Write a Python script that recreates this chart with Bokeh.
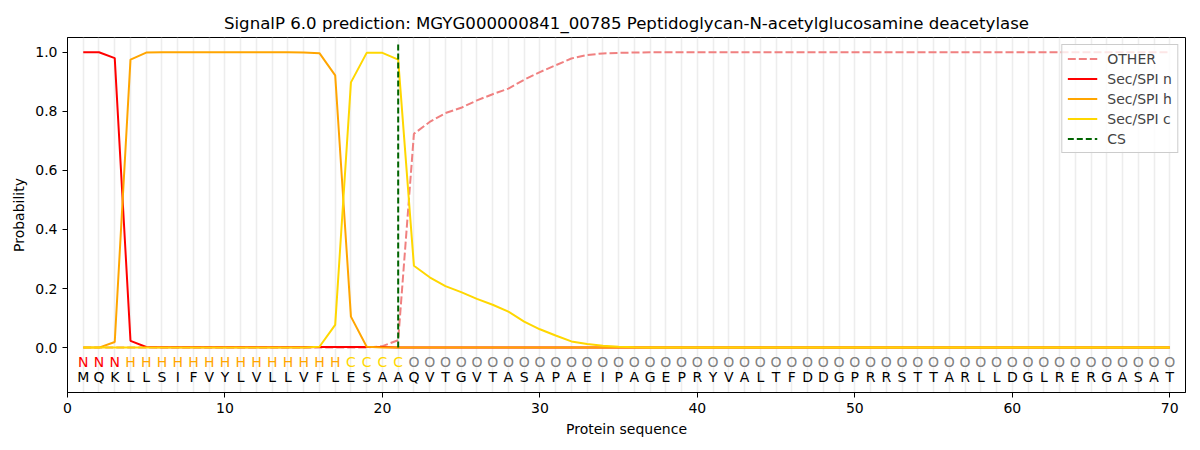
from bokeh.plotting import figure
from bokeh.models import FixedTicker, Legend, LegendItem, ColumnDataSource, CustomJSTickFormatter
from bokeh.core.properties import value
from bokeh.embed import file_html
from bokeh.resources import INLINE

title = "SignalP 6.0 prediction: MGYG000000841_00785 Peptidoglycan-N-acetylglucosamine deacetylase"
sequence = list("MQKLLSIFVYLVLLVFLESAAQVTGVTASAPAEIPAGEPRYVALTFDDGPRRSTTARLLDGLRERGASAT")
labels = list("NNN" + "H" * 14 + "CCCC" + "O" * 49)
positions = list(range(1, 71))

other = ([0.0] * 19 + [0.005, 0.025, 0.724, 0.764, 0.794, 0.812, 0.837, 0.858, 0.877,
         0.907, 0.933, 0.956, 0.979, 0.991, 0.996, 0.998, 0.999] + [1.0] * 34)
sec_n = ([1.0, 1.0, 0.98, 0.023, 0.002] + [0.001] * 10 + [0.002] * 5 + [0.0] * 50)
sec_h = ([0.0, 0.0, 0.019, 0.975, 0.999] + [1.0] * 9 + [0.999, 0.997, 0.922, 0.105, 0.003] + [0.0] * 51)
sec_c = ([0.0] * 15 + [0.003, 0.077, 0.898, 0.998, 0.998, 0.975, 0.277, 0.238, 0.208, 0.188,
         0.165, 0.145, 0.122, 0.088, 0.062, 0.041, 0.021, 0.012, 0.006, 0.003, 0.001] + [0.0] * 34)
cs_pos = 21

label_colors = {"N": "#ff0000", "H": "#ffa500", "C": "#ffd700", "O": "#808080"}
FONT = "DejaVu Sans"

p = figure(frame_width=1118, frame_height=355, x_range=(0, 71), y_range=(-0.152, 1.05),
           output_backend="svg", toolbar_location=None, title=title,
           min_border_left=67, min_border_right=7, min_border_top=37, min_border_bottom=50)
p.title.align = "center"
p.title.text_font = FONT
p.title.text_font_size = "16.6px"
p.title.text_font_style = "normal"
p.title.text_color = "black"
p.outline_line_color = "black"
p.outline_line_width = 1
p.outline_line_alpha = 1

p.xgrid.ticker = FixedTicker(ticks=positions)
p.xgrid.grid_line_color = "#e8e8e8"
p.xgrid.grid_line_width = 1.5
p.xgrid.grid_line_alpha = 0.8
p.ygrid.grid_line_color = None

p.xaxis.ticker = FixedTicker(ticks=[0, 10, 20, 30, 40, 50, 60, 70])
p.yaxis.ticker = FixedTicker(ticks=[0.0, 0.2, 0.4, 0.6, 0.8, 1.0])
p.yaxis.formatter = CustomJSTickFormatter(code="return tick.toFixed(1);")
for ax in (p.xaxis, p.yaxis):
    ax.major_label_text_font = FONT
    ax.major_label_text_font_size = "14px"
    ax.major_label_text_color = "black"
    ax.axis_label_text_font = FONT
    ax.axis_label_text_font_size = "14px"
    ax.axis_label_text_font_style = "normal"
    ax.axis_label_text_color = "black"
    ax.minor_tick_line_color = None
    ax.major_tick_in = 0
    ax.major_tick_out = 5
    ax.axis_line_color = "black"
p.xaxis.axis_label = "Protein sequence"
p.yaxis.axis_label = "Probability"

r_other = p.line(positions, other, line_color="#f08080", line_width=2, line_dash="8 3")
r_n = p.line(positions, sec_n, line_color="#ff0000", line_width=2)
r_h = p.line(positions, sec_h, line_color="#ffa500", line_width=2)
r_c = p.line(positions, sec_c, line_color="#ffd700", line_width=2)
r_cs = p.segment(x0=[cs_pos], y0=[0.0], x1=[cs_pos], y1=[1.035], line_color="#006400",
                 line_width=2, line_dash="6 3")

src_lab = ColumnDataSource(dict(x=positions, y=[-0.048] * 70, t=labels,
                                c=[label_colors[l] for l in labels]))
p.text(x="x", y="y", text="t", text_color="c", source=src_lab, text_align="center",
       text_baseline="middle", text_font=value(FONT), text_font_size="14px")
src_seq = ColumnDataSource(dict(x=positions, y=[-0.1] * 70, t=sequence))
p.text(x="x", y="y", text="t", text_color="black", source=src_seq, text_align="center",
       text_baseline="middle", text_font=value(FONT), text_font_size="14px")

legend = Legend(items=[LegendItem(label="OTHER", renderers=[r_other]),
                       LegendItem(label="Sec/SPI n", renderers=[r_n]),
                       LegendItem(label="Sec/SPI h", renderers=[r_h]),
                       LegendItem(label="Sec/SPI c", renderers=[r_c]),
                       LegendItem(label="CS", renderers=[r_cs])],
                location="top_right")
legend.label_text_font = FONT
legend.label_text_font_size = "14px"
legend.border_line_color = "#cccccc"
legend.border_line_alpha = 1
legend.background_fill_alpha = 0.8
legend.margin = 7
legend.padding = 5
legend.spacing = 3
legend.label_height = 17
legend.glyph_height = 17
legend.glyph_width = 30
legend.label_standoff = 10
p.add_layout(legend, "center")

open("out.html", "w").write(file_html(p, INLINE))
